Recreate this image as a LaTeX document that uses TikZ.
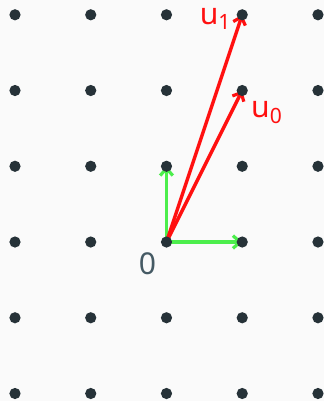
\documentclass[tikz,border=0pt]{standalone}
\usepackage{fontspec}
\setmainfont{Noto Sans}
\usetikzlibrary{arrows.meta,backgrounds,positioning}
\definecolor{dotgray}{HTML}{263238}
\definecolor{labgray}{HTML}{455A64}
\definecolor{vecred}{HTML}{FF1010}
\definecolor{vecgreen}{HTML}{4CEE4C}
\definecolor{paper}{HTML}{FAFAFA}
\begin{document}
\begin{tikzpicture}
    [x=75.75/324*4.277cm, y=75.75/324*4.277cm,
    font=\fontsize{11.3}{13}\selectfont,
    vec/.style={line width=1.3pt, -{Straight Barb[length=2.6pt,width=4.8pt,line width=1.2pt]}},
    vertex/.style={inner sep=0pt, minimum size=0.148cm, circle, fill=dotgray}]
    \useasboundingbox (-2.198,-2.099) rectangle (2.079,3.195);
        %% lattice points
    \foreach \i in {0,...,4}
        \foreach \j in {0,...,5}
            \node[vertex] (P\i\j) at (\i-2,\j-2) {};

        %% labels
    \node[labgray, below left=-1.1pt and -1.3pt of P22] (O) {0};
    \node[vecred, left=-1.9pt of P35, yshift=-1.7pt] (L1) {u\textsubscript{1}};
    \node[vecred, below right=-0.9pt and -1.8pt of P34] (L0) {u\textsubscript{0}};

        %% vectors
    \begin{scope}[on background layer]
        \fill[paper] (-2.198,-2.099) rectangle (2.079,3.195);
        \draw[vec, vecgreen] (P22.center) to (P32.center);
        \draw[vec, vecgreen] (P22.center) to (P23.center);
        \draw[vec, vecred] (P22.center) to (P35.center);
        \draw[vec, vecred] (P22.center) to (P34.center);
    \end{scope}
\end{tikzpicture}
\end{document}
